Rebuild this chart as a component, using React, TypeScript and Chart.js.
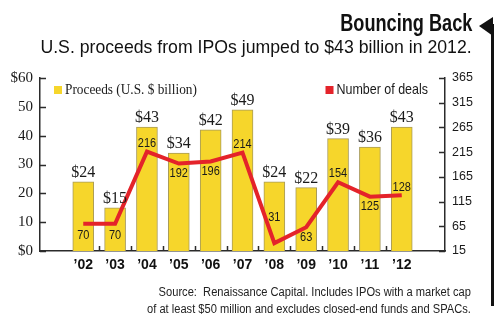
import React, { useEffect, useRef } from "react";
import { Chart, registerables } from "chart.js";

Chart.register(...registerables);

const years = ["’02", "’03", "’04", "’05", "’06", "’07", "’08", "’09", "’10", "’11", "’12"];
const proceeds = [24, 15, 43, 34, 42, 49, 24, 22, 39, 36, 43];
const deals = [70, 70, 216, 192, 196, 214, 31, 63, 154, 125, 128];

// style: vertical offset (px) of each deal-count label from the line
const dealLabelOffset = [12, 12, -8, 10, 10, -8, -26, 10, -9, 10, -8];

const SERIF = '"Liberation Serif", "DejaVu Serif", serif';
const SANS = '"Liberation Sans", Arial, sans-serif';

const YELLOW = "#F6D62B";
const RED = "#E4232A";
const AXIS = "#2b2b2b";

function condensedText(ctx: any, text: string, x: number, y: number, sx: number) {
  ctx.save();
  ctx.translate(x, y);
  ctx.scale(sx, 1);
  ctx.fillText(text, 0, 0);
  ctx.restore();
}

const decorPlugin = {
  id: "decor",
  afterDatasetsDraw(chart: any) {
    const ctx = chart.ctx;
    const x = chart.scales.x;
    const y = chart.scales.y;
    const y1 = chart.scales.y1;
    ctx.save();
    ctx.fillStyle = "#1a1a1a";
    ctx.font = `16px ${SERIF}`;
    ctx.textAlign = "center";
    ctx.textBaseline = "alphabetic";
    proceeds.forEach((v, i) => {
      ctx.fillText("$" + v, x.getPixelForValue(i), y.getPixelForValue(v) - 5);
    });
    ctx.font = `12.5px ${SANS}`;
    ctx.textBaseline = "middle";
    deals.forEach((v, i) => {
      condensedText(ctx, String(v), x.getPixelForValue(i), y1.getPixelForValue(v) + dealLabelOffset[i], 0.88);
    });
    ctx.restore();
  },
  afterDraw(chart: any) {
    const ctx = chart.ctx;
    const { left, right, bottom, top } = chart.chartArea;
    const x = chart.scales.x;
    const y = chart.scales.y;
    const y1 = chart.scales.y1;
    ctx.save();
    ctx.strokeStyle = AXIS;
    ctx.lineWidth = 1.5;
    ctx.beginPath();
    y.ticks.forEach((t: any) => {
      const py = Math.round(y.getPixelForValue(t.value)) + 0.5;
      ctx.moveTo(left, py);
      ctx.lineTo(left + 6, py);
    });
    y1.ticks.forEach((t: any) => {
      const py = Math.round(y1.getPixelForValue(t.value)) + 0.5;
      ctx.moveTo(right, py);
      ctx.lineTo(right - 6, py);
    });
    for (let i = 0; i < years.length - 1; i++) {
      const px = Math.round(x.getPixelForValue(i + 0.5)) + 0.5;
      ctx.moveTo(px, bottom);
      ctx.lineTo(px, bottom - 5);
    }
    ctx.stroke();

    // legend
    const ly = top + 12;
    ctx.textBaseline = "middle";
    ctx.textAlign = "left";
    ctx.fillStyle = YELLOW;
    ctx.fillRect(left + 14, ly - 4, 8, 8);
    ctx.fillStyle = "#1a1a1a";
    ctx.font = `14px ${SERIF}`;
    condensedText(ctx, chart.data.datasets[1].label, left + 25, ly, 0.95);
    ctx.font = `14.5px ${SANS}`;
    const lbl = chart.data.datasets[0].label;
    const sx = 0.86;
    const w = ctx.measureText(lbl).width * sx;
    const lx = right - 17 - w;
    condensedText(ctx, lbl, lx, ly, sx);
    ctx.fillStyle = RED;
    ctx.fillRect(lx - 11, ly - 4, 8, 8);

    // arrow decoration at right edge
    const W = chart.width;
    ctx.fillStyle = "#111";
    ctx.fillRect(W - 9, 24, 3, 282);
    ctx.beginPath();
    ctx.moveTo(W - 21, 26);
    ctx.lineTo(W - 7, 17);
    ctx.lineTo(W - 7, 36);
    ctx.closePath();
    ctx.fill();
    ctx.restore();
  },
};

export default function App() {
  const ref = useRef<HTMLCanvasElement | null>(null);
  useEffect(() => {
    if (!ref.current) return;
    const chart = new Chart(ref.current, {
      type: "bar",
      data: {
        datasets: [
          {
            type: "line",
            label: "Number of deals",
            data: deals.map((v, i) => ({ x: i, y: v })),
            yAxisID: "y1",
            borderColor: RED,
            borderWidth: 4,
            pointRadius: 0,
            tension: 0,
            order: 0,
          } as any,
          {
            type: "bar",
            label: "Proceeds (U.S. $ billion)",
            data: proceeds.map((v, i) => ({ x: i, y: v })),
            yAxisID: "y",
            backgroundColor: YELLOW,
            borderColor: "#A89B5A",
            borderWidth: 1,
            barThickness: 21,
            order: 1,
          },
        ],
      },
      options: {
        animation: false,
        responsive: false,
        layout: { padding: { top: 78, left: 0, right: 0, bottom: 0 } },
        plugins: { legend: { display: false }, tooltip: { enabled: false } },
        scales: {
          x: {
            type: "linear",
            min: -0.78,
            max: 10.78,
            grid: { display: false, drawTicks: false },
            border: { display: true, color: AXIS, width: 1.5 },
            ticks: {
              stepSize: 1,
              includeBounds: false,
              autoSkip: false,
              padding: 6,
              color: "#111",
              font: { family: SANS, size: 14, weight: "bold" },
              callback: (v: any) => (Number.isInteger(v) && years[v] ? years[v] : ""),
              maxRotation: 0,
            },
            afterFit: (s: any) => {
              s.height = 74;
            },
          },
          y: {
            position: "left",
            min: 0,
            max: 60,
            grid: { display: false, drawTicks: false },
            border: { display: true, color: AXIS, width: 1.5 },
            ticks: {
              stepSize: 10,
              padding: 7,
              color: "#1a1a1a",
              font: { family: SERIF, size: 15 },
              callback: (v: any) => (v === 0 || v === 60 ? "$" + v : String(v)),
            },
            afterFit: (s: any) => {
              s.width = 40;
            },
          },
          y1: {
            position: "right",
            min: 15,
            max: 365,
            grid: { display: false, drawTicks: false },
            border: { display: true, color: AXIS, width: 1.5 },
            ticks: {
              stepSize: 50,
              padding: 7,
              color: "#1a1a1a",
              font: { family: SANS, size: 12.5 },
            },
            afterFit: (s: any) => {
              s.width = 55;
            },
          },
        },
      },
      plugins: [decorPlugin],
    });
    return () => chart.destroy();
  }, []);

  const textBase = { position: "absolute" as const, whiteSpace: "nowrap" as const, transformOrigin: "right center" };

  return (
    <div style={{ position: "fixed", left: 0, top: 0, width: 500, height: 325, background: "#fff", overflow: "hidden" }}>
      <canvas ref={ref} width={500} height={325} style={{ position: "absolute", left: 0, top: 0 }} />
      <div
        style={{
          ...textBase,
          right: 28,
          top: 10,
          fontFamily: SANS,
          fontWeight: "bold",
          fontSize: 23,
          color: "#111",
          lineHeight: "26px",
          transform: "scaleX(0.79)",
        }}
      >
        Bouncing Back
      </div>
      <div
        style={{
          ...textBase,
          right: 28,
          top: 35,
          fontFamily: SANS,
          fontSize: 19,
          color: "#111",
          lineHeight: "24px",
          transform: "scaleX(0.93)",
        }}
      >
        U.S. proceeds from IPOs jumped to $43 billion in 2012.
      </div>
      <div
        style={{
          ...textBase,
          right: 29,
          top: 284,
          fontFamily: SANS,
          fontSize: 12.5,
          color: "#222",
          textAlign: "right",
          lineHeight: "17px",
          transform: "scaleX(0.89)",
        }}
      >
        Source:&nbsp; Renaissance Capital. Includes IPOs with a market cap
        <br />
        of at least $50 million and excludes closed-end funds and SPACs.
      </div>
    </div>
  );
}
